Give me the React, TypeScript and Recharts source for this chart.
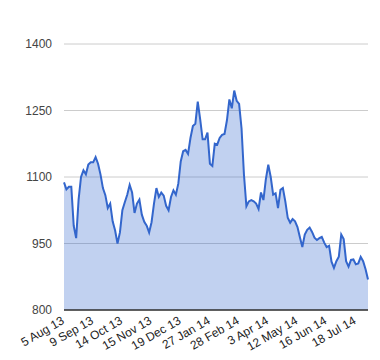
import React from "react";
import { AreaChart, Area, XAxis, YAxis, CartesianGrid } from "recharts";

const tickLabels = [
  "5 Aug 13", "9 Sep 13", "14 Oct 13", "15 Nov 13", "19 Dec 13", "27 Jan 14",
  "28 Feb 14", "3 Apr 14", "12 May 14", "16 Jun 14", "18 Jul 14",
];
const pointsPerTick = 12;

const prices = [
  1088, 1072, 1078, 1078, 990, 962, 1049, 1100, 1115, 1106,
  1128, 1133, 1133, 1145, 1130, 1106, 1075, 1059, 1030, 1040,
  1000, 980, 950, 975, 1025, 1043, 1060, 1082, 1065, 1019,
  1040, 1049, 1015, 999, 990, 975, 998, 1040, 1075, 1055,
  1065, 1058, 1035, 1025, 1055, 1070, 1060, 1085, 1135, 1158,
  1161, 1152, 1188, 1215, 1220, 1270, 1230, 1185, 1185, 1200,
  1130, 1125, 1175, 1173, 1188, 1195, 1197, 1228, 1275, 1255,
  1295, 1272, 1265, 1210, 1105, 1034, 1045, 1048, 1045, 1040,
  1028, 1065, 1048, 1095, 1128, 1100, 1060, 1063, 1030, 1071,
  1075, 1045, 1008, 997, 1005, 1000, 987, 964, 942, 970,
  981, 986, 976, 963, 958, 962, 965, 952, 942, 945,
  909, 895, 910, 920, 970, 960, 910, 898, 913, 914,
  903, 905, 920, 910, 892, 869,
];

const yTicks = [800, 950, 1100, 1250, 1400];

const data = prices.map((v, i) => ({ i, v }));
const xTicks = tickLabels.map((_, k) => k * pointsPerTick);

const FONT = "Arial, 'Liberation Sans', sans-serif";

const XTick = (props: any) => {
  const { x, y, payload } = props;
  const label = tickLabels[Math.round(payload.value / pointsPerTick)];
  const ax = x + 1;
  const ay = y + 13;
  return (
    <g transform={`translate(${ax},${ay})`}>
      <g transform="rotate(-30)">
        <text x={0} y={0} textAnchor="end" fontSize={12} fill="#222" fontFamily={FONT}>
          {label}
        </text>
      </g>
    </g>
  );
};

export default function App() {
  return (
    <div style={{ position: "absolute", left: 0, top: 0, width: 380, height: 360, background: "#fff" }}>
      <AreaChart
        width={380}
        height={360}
        data={data}
        margin={{ top: 44, right: 12, bottom: 0, left: 0 }}
      >
        <CartesianGrid vertical={false} stroke="#cccccc" />
        <XAxis
          dataKey="i"
          type="number"
          domain={[0, prices.length - 1]}
          ticks={xTicks}
          interval={0}
          tickLine={false}
          tickSize={0}
          tickMargin={0}
          axisLine={{ stroke: "#333", strokeWidth: 1.5 }}
          tick={<XTick />}
          height={50}
        />
        <YAxis
          domain={[800, 1400]}
          ticks={yTicks}
          interval={0}
          width={64}
          tickLine={false}
          axisLine={false}
          tickMargin={6}
          tick={{ fontSize: 12, fill: "#444", fontFamily: FONT }}
        />
        <Area
          type="linear"
          dataKey="v"
          stroke="#3366cc"
          strokeWidth={2}
          fill="#3366cc"
          fillOpacity={0.3}
          isAnimationActive={false}
          dot={false}
          activeDot={false}
        />
      </AreaChart>
    </div>
  );
}
